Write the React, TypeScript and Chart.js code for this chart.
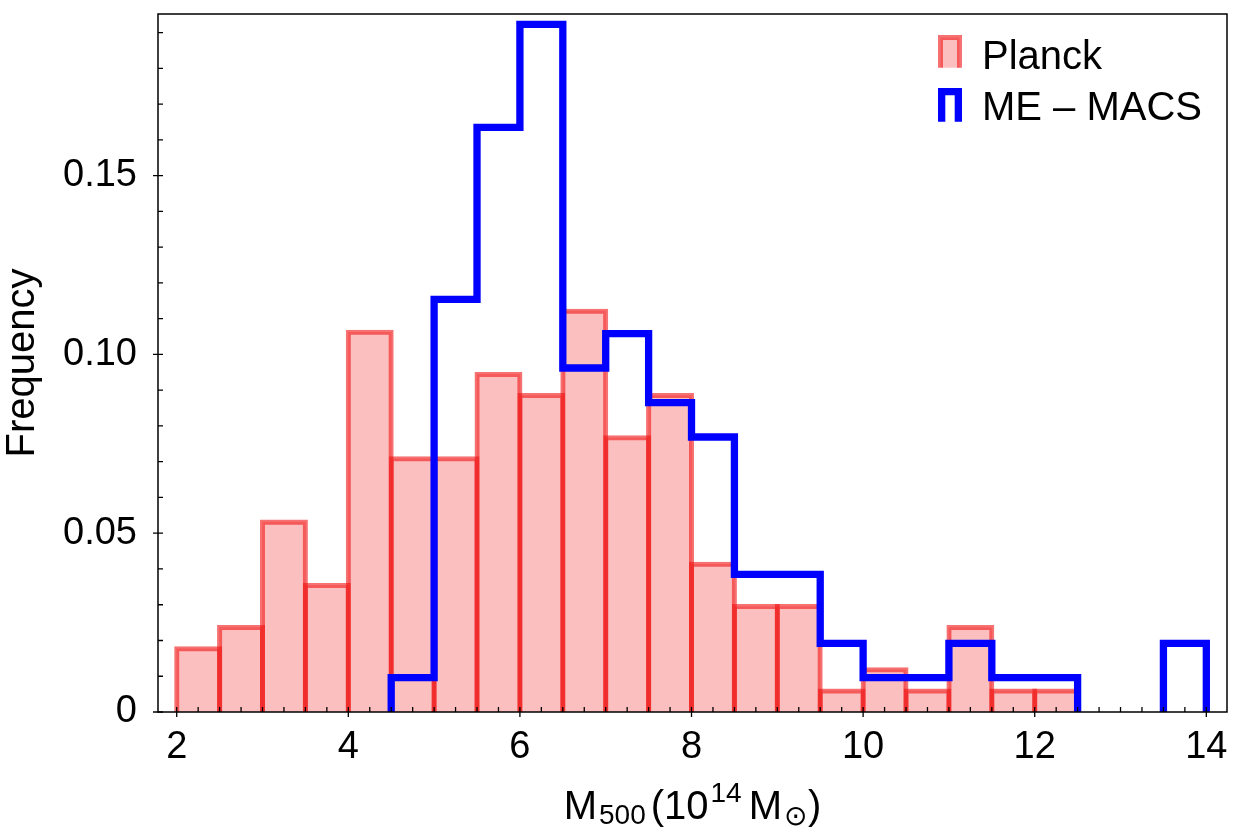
import { useEffect, useRef } from "react";
import { Chart, registerables } from "chart.js";

Chart.register(...registerables);

// Histogram bins (lower edges) and relative frequencies
const binWidth = 0.5;
const planckBinStarts = [2.0, 2.5, 3.0, 3.5, 4.0, 4.5, 5.0, 5.5, 6.0, 6.5, 7.0, 7.5, 8.0, 8.5, 9.0, 9.5, 10.0, 10.5, 11.0, 11.5, 12.0];
const planckFreq = [0.0177, 0.0236, 0.0531, 0.0354, 0.1062, 0.0708, 0.0708, 0.0944, 0.0885, 0.1121, 0.0767, 0.0885, 0.0413, 0.0295, 0.0295, 0.0059, 0.0118, 0.0059, 0.0236, 0.0059, 0.0059];
const macsBinStarts = [4.5, 5.0, 5.5, 6.0, 6.5, 7.0, 7.5, 8.0, 8.5, 9.0, 9.5, 10.0, 10.5, 11.0, 11.5, 12.0, 12.5, 13.0, 13.5];
const macsFreq = [0.0096, 0.1154, 0.1635, 0.1923, 0.0962, 0.1058, 0.0865, 0.0769, 0.0385, 0.0385, 0.0192, 0.0096, 0.0096, 0.0192, 0.0096, 0.0096, 0, 0, 0.0192];

const seriesNames = ["Planck", "ME \u2013 MACS"];

// Axes
const xRange = [1.782, 14.241];
const yRange = [0, 0.1952];
const xTickValues = [2, 4, 6, 8, 10, 12, 14];
const xTickLabels = ["2", "4", "6", "8", "10", "12", "14"];
const yTickValues = [0, 0.05, 0.1, 0.15];
const yTickLabels = ["0", "0.05", "0.10", "0.15"];
const xMinorStep = 0.25;
const yMinorStep = 0.01;
const yTitle = "Frequency";

const FONT = '"Liberation Sans", Arial, sans-serif';
const PLANCK_FILL = "rgba(240, 20, 20, 0.27)";
const PLANCK_EDGE = "rgba(240, 20, 20, 0.6)";
const MACS_COLOR = "#0000ff";

type Pt = { x: number; y: number | null };

function barPoints(starts: number[], freqs: number[]): Pt[] {
  return starts.map((s, i) => ({ x: s + binWidth / 2, y: freqs[i] }));
}

// Outline of a step histogram; empty bins break the line
function stepOutline(starts: number[], freqs: number[]): Pt[] {
  const pts: Pt[] = [];
  for (let i = 0; i < starts.length; i++) {
    const f = freqs[i];
    if (f <= 0) continue;
    const lo = starts[i];
    const hi = lo + binWidth;
    const prevEmpty = i === 0 || freqs[i - 1] <= 0;
    const nextEmpty = i === starts.length - 1 || freqs[i + 1] <= 0;
    if (prevEmpty) pts.push({ x: lo, y: 0 });
    pts.push({ x: lo, y: f }, { x: hi, y: f });
    if (nextEmpty) {
      pts.push({ x: hi, y: 0 });
      pts.push({ x: hi, y: null });
    }
  }
  return pts;
}

const axisDecor = {
  id: "axisDecor",
  afterDatasetsDraw(chart: any) {
    const { ctx, chartArea: a, scales } = chart;
    const xs = scales.x;
    const ys = scales.y;
    ctx.save();
    ctx.strokeStyle = "#000";
    ctx.lineWidth = 1.3;
    // minor + major ticks on the bottom axis
    ctx.beginPath();
    for (let v = xTickValues[0]; v <= xTickValues[xTickValues.length - 1] + 1e-9; v += xMinorStep) {
      const px = xs.getPixelForValue(v);
      const major = xTickValues.some((t) => Math.abs(t - v) < 1e-6);
      ctx.moveTo(px, a.bottom - 5);
      ctx.lineTo(px, a.bottom + (major ? 5 : 0));
    }
    // minor + major ticks on the left axis
    for (let k = 0; k * yMinorStep <= yRange[1]; k++) {
      const v = k * yMinorStep;
      const py = ys.getPixelForValue(v);
      const major = yTickValues.some((t) => Math.abs(t - v) < 1e-6);
      ctx.moveTo(a.left + 5, py);
      ctx.lineTo(a.left - (major ? 5 : 0), py);
    }
    ctx.stroke();
    // frame
    ctx.lineWidth = 1.5;
    ctx.strokeRect(a.left, a.top, a.right - a.left, a.bottom - a.top);
    ctx.restore();
  },
  afterDraw(chart: any) {
    const { ctx, chartArea: a } = chart;
    ctx.save();
    ctx.fillStyle = "#000";

    // y title
    ctx.save();
    ctx.translate(34, (a.top + a.bottom) / 2);
    ctx.rotate(-Math.PI / 2);
    ctx.font = `40px ${FONT}`;
    ctx.textAlign = "center";
    ctx.textBaseline = "alphabetic";
    ctx.fillText(yTitle, 0, 0);
    ctx.restore();

    // x title: M_500 (10^14 M_sun)
    const big = 40;
    const small = 28;
    const pieces = [
      { t: "M", size: big, dy: 0, gap: 0 },
      { t: "500", size: small, dy: 4.5, gap: 2 },
      { t: "(", size: big, dy: 0, gap: 5 },
      { t: "10", size: big, dy: 0, gap: 0 },
      { t: "14", size: small, dy: -17, gap: 2 },
      { t: "M", size: big, dy: 0, gap: 7 },
      { t: "\u2299", size: small, dy: 6, gap: 2 },
      { t: ")", size: big, dy: 0, gap: 1 },
    ];
    let total = 0;
    const widths = pieces.map((p) => {
      ctx.font = `${p.size}px ${FONT}`;
      const w = ctx.measureText(p.t).width;
      total += p.gap + w;
      return w;
    });
    let cx = (a.left + a.right) / 2 - total / 2;
    const base = 819;
    ctx.textAlign = "left";
    ctx.textBaseline = "alphabetic";
    pieces.forEach((p, i) => {
      cx += p.gap;
      ctx.font = `${p.size}px ${FONT}`;
      ctx.fillText(p.t, cx, base + p.dy);
      cx += widths[i];
    });

    // legend
    ctx.lineJoin = "miter";
    ctx.lineCap = "butt";
    // Planck patch
    ctx.fillStyle = PLANCK_FILL;
    ctx.fillRect(940.5, 37.5, 19, 30.2);
    ctx.strokeStyle = PLANCK_EDGE;
    ctx.lineWidth = 5;
    ctx.beginPath();
    ctx.moveTo(940.5, 67.7);
    ctx.lineTo(940.5, 37.5);
    ctx.lineTo(959.5, 37.5);
    ctx.lineTo(959.5, 67.7);
    ctx.stroke();
    // ME-MACS step icon
    ctx.strokeStyle = MACS_COLOR;
    ctx.lineWidth = 7.3;
    ctx.beginPath();
    ctx.moveTo(941.65, 121.7);
    ctx.lineTo(941.65, 91.65);
    ctx.lineTo(958.35, 91.65);
    ctx.lineTo(958.35, 121.7);
    ctx.stroke();

    ctx.fillStyle = "#000";
    ctx.font = `40px ${FONT}`;
    ctx.textAlign = "left";
    ctx.textBaseline = "alphabetic";
    ctx.fillText(seriesNames[0], 982, 69);
    ctx.fillText(seriesNames[1], 982, 120);
    ctx.restore();
  },
};

export default function App() {
  const canvasRef = useRef<HTMLCanvasElement | null>(null);

  useEffect(() => {
    if (!canvasRef.current) return;
    const planckPts = barPoints(planckBinStarts, planckFreq);
    const chart = new Chart(canvasRef.current, {
      type: "bar",
      data: {
        datasets: [
          {
            type: "bar",
            label: seriesNames[0],
            data: planckPts as any,
            backgroundColor: PLANCK_FILL,
            borderWidth: 0,
            grouped: false,
            barPercentage: 1,
            categoryPercentage: 1,
            order: 3,
          } as any,
          {
            type: "bar",
            label: seriesNames[0] + " edge",
            data: planckPts as any,
            backgroundColor: "rgba(0,0,0,0)",
            borderColor: PLANCK_EDGE,
            borderWidth: { top: 0.01, left: 0.01, right: 0.01, bottom: 0 },
            borderSkipped: "start",
            inflateAmount: 2.5,
            grouped: false,
            barPercentage: 1,
            categoryPercentage: 1,
            order: 2,
          } as any,
          {
            type: "line",
            label: seriesNames[1],
            data: stepOutline(macsBinStarts, macsFreq) as any,
            borderColor: MACS_COLOR,
            borderWidth: 7.3,
            borderJoinStyle: "miter",
            borderCapStyle: "butt",
            pointRadius: 0,
            fill: false,
            tension: 0,
            spanGaps: false,
            order: 1,
          } as any,
        ],
      },
      options: {
        responsive: false,
        maintainAspectRatio: false,
        devicePixelRatio: 1,
        animation: false,
        events: [],
        layout: { padding: { top: 14, right: 23, left: 0, bottom: 0 } },
        plugins: {
          legend: { display: false },
          tooltip: { enabled: false },
        },
        scales: {
          x: {
            type: "linear",
            min: xRange[0],
            max: xRange[1],
            offset: false,
            grid: { display: false, drawTicks: false },
            border: { display: false },
            afterBuildTicks: (scale: any) => {
              scale.ticks = xTickValues.map((v) => ({ value: v }));
            },
            afterFit: (scale: any) => {
              scale.height = 122;
              scale.paddingLeft = 0;
              scale.paddingRight = 0;
            },
            ticks: {
              autoSkip: false,
              maxRotation: 0,
              padding: 12.5,
              color: "#000",
              font: { family: FONT, size: 38 },
              callback: (v: any) => {
                const i = xTickValues.findIndex((t) => Math.abs(t - Number(v)) < 1e-6);
                return i >= 0 ? xTickLabels[i] : "";
              },
            },
          },
          y: {
            type: "linear",
            min: yRange[0],
            max: yRange[1],
            grid: { display: false, drawTicks: false },
            border: { display: false },
            afterBuildTicks: (scale: any) => {
              scale.ticks = yTickValues.map((v) => ({ value: v }));
            },
            afterFit: (scale: any) => {
              scale.width = 158;
              scale.paddingTop = 0;
              scale.paddingBottom = 0;
            },
            ticks: {
              autoSkip: false,
              padding: 21,
              color: "#000",
              font: { family: FONT, size: 38 },
              callback: (v: any) => {
                const i = yTickValues.findIndex((t) => Math.abs(t - Number(v)) < 1e-6);
                return i >= 0 ? yTickLabels[i] : "";
              },
            },
          },
        },
      } as any,
      plugins: [axisDecor],
    });
    return () => chart.destroy();
  }, []);

  return (
    <div style={{ position: "absolute", left: 0, top: 0, width: 1250, height: 834, background: "#fff" }}>
      <canvas ref={canvasRef} width={1250} height={834} style={{ display: "block" }} />
    </div>
  );
}
